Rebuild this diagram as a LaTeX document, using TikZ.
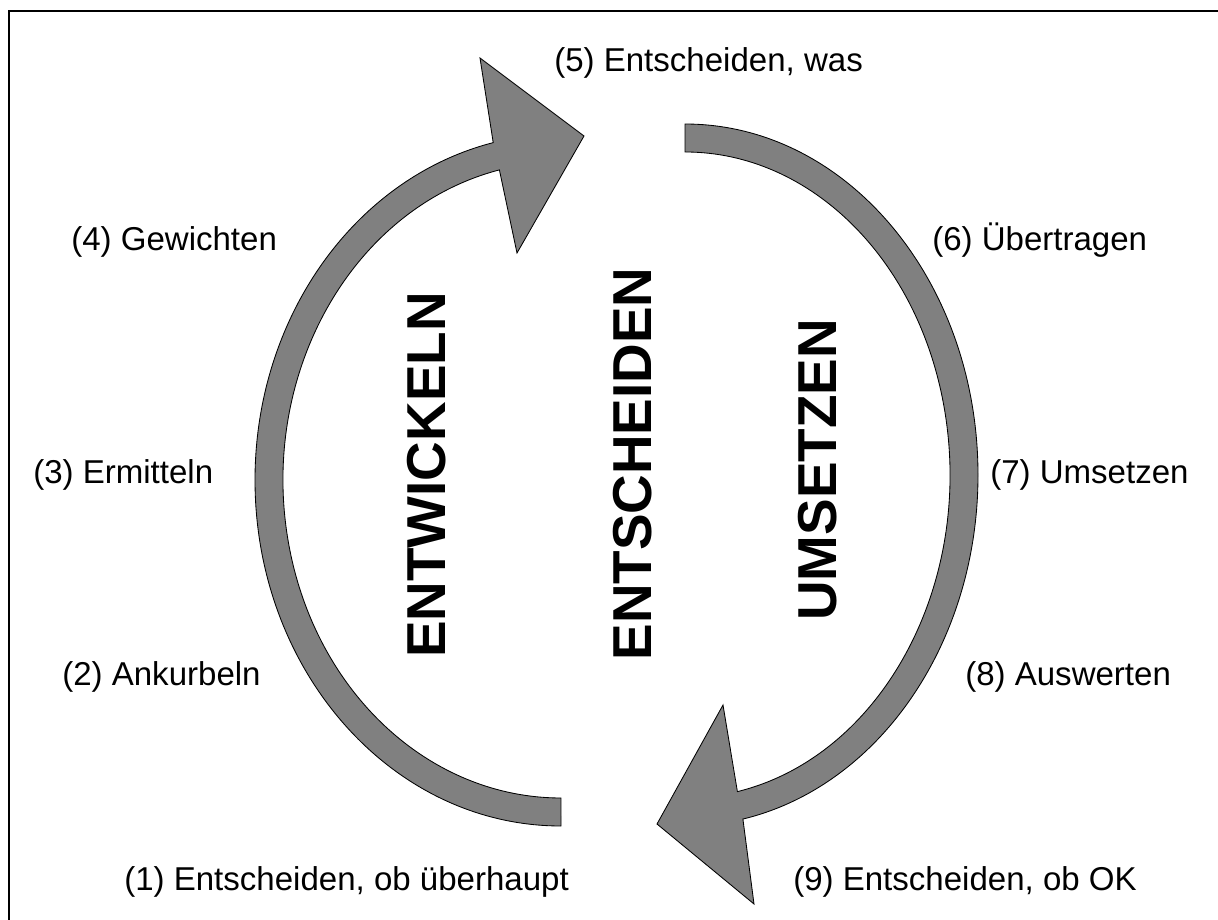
\documentclass[tikz,border=0pt]{standalone}
\usepackage{fontspec}
\setmainfont{Liberation Sans}

\definecolor{bandgray}{RGB}{128,128,128}
\tikzset{
  steplabel/.style={anchor=base west, inner sep=0pt, font=\fontsize{23.5}{28}\selectfont},
  phaselabel/.style={rotate=90, anchor=base, inner sep=0pt, font=\fontsize{39}{44}\selectfont\bfseries},
  arrowband/.style={fill=bandgray, draw=black, line width=0.6pt, line join=miter}
}

\begin{document}
\begin{tikzpicture}[x=0.025cm, y=-0.025cm]
    \useasboundingbox (0,0) rectangle (1218,920);
    \draw[line width=1.5pt] (9,920) -- (9,11) -- (1218,11);

    % left band, head at the top
    \draw[arrowband] (561,826) arc[start angle=90, end angle=257.2, x radius=306, y radius=346]
        -- (480,58) -- (584,136) -- (517,253) -- (499.4,169.9)
        arc[start angle=257.2, end angle=90, x radius=278, y radius=318] -- cycle;
    % right band, head at the bottom
    \draw[arrowband] (685,124) arc[start angle=-90, end angle=78.6, x radius=293, y radius=351]
        -- (754,904) -- (657,824) -- (723,705) -- (737.4,791.6)
        arc[start angle=78.6, end angle=-90, x radius=265, y radius=323] -- cycle;

    \node[phaselabel] (entw) at (445,475) {ENTWICKELN};
    \node[phaselabel] (entsch) at (651,464) {ENTSCHEIDEN};
    \node[phaselabel] (ums) at (836,470) {UMSETZEN};

    \node[steplabel] (s1) at (124,890) {(1) Entscheiden, ob überhaupt};
    \node[steplabel] (s2) at (62,685) {(2) Ankurbeln};
    \node[steplabel] (s3) at (33,483) {(3) Ermitteln};
    \node[steplabel] (s4) at (71,250) {(4) Gewichten};
    \node[steplabel] (s5) at (554,72) {(5) Entscheiden, was};
    \node[steplabel] (s6) at (932,250) {(6) Übertragen};
    \node[steplabel] (s7) at (990,483) {(7) Umsetzen};
    \node[steplabel] (s8) at (965,685) {(8) Auswerten};
    \node[steplabel] (s9) at (793,890) {(9) Entscheiden, ob OK};
\end{tikzpicture}
\end{document}
